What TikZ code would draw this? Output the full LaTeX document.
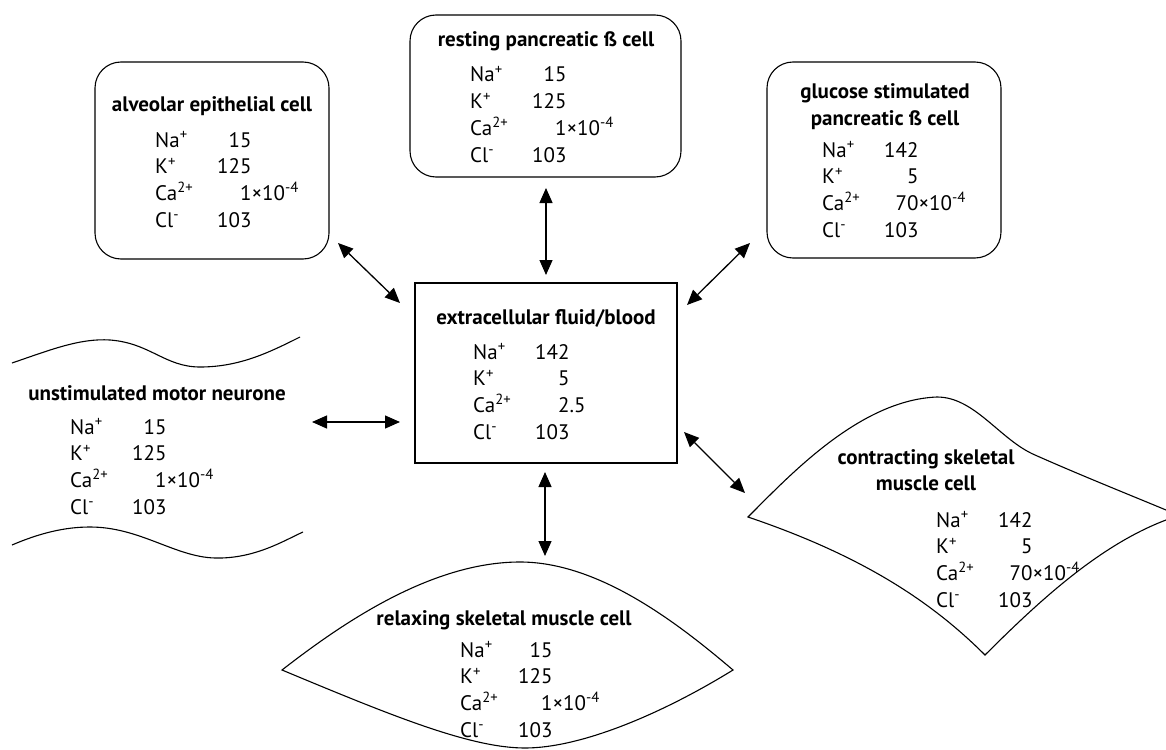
\documentclass[tikz,border=0pt]{standalone}
\usepackage{fontspec}
\setmainfont{PT Sans}
\usetikzlibrary{arrows.meta}
\newcommand\ions[6][62pt]{%
\begin{tabular}[t]{@{}l@{}r@{}l@{}}
\makebox[#1][l]{Na\textsuperscript{+}} & #2 & \\
K\textsuperscript{+} & #3 & \\
Ca\textsuperscript{2+} & #4 & #5\\
Cl\textsuperscript{-} & #6 &
\end{tabular}}
\newcommand\tenm{\texttimes 10\textsuperscript{-4}}
\tikzset{
  cellbox/.style={draw, line width=1.1pt, rounded corners=26pt, inner sep=0pt},
  plainbox/.style={draw, line width=1.1pt, inner sep=0pt},
  ttl/.style={font=\fontsize{21}{26}\selectfont\bfseries, inner sep=0pt, anchor=base},
  tbl/.style={font=\fontsize{21}{26.7}\selectfont, inner sep=0pt, anchor=base west},
  dbl/.style={{Triangle[length=15pt,width=13pt]}-{Triangle[length=15pt,width=13pt]}, line width=1.3pt},
  outline/.style={line width=1.1pt},
}
\begin{document}
\begin{tikzpicture}[x=1pt,y=-1pt]
\useasboundingbox (0,0) rectangle (1166,749);
% boxes
\node[cellbox, minimum width=271pt, minimum height=162pt] (rest) at (545.5,96) {};
\node[cellbox, minimum width=234pt, minimum height=197pt] (alv) at (212,160.5) {};
\node[cellbox, minimum width=234pt, minimum height=196pt] (glu) at (884,160) {};
\node[plainbox, minimum width=262pt, minimum height=180pt] (ecf) at (546,373) {};
% texts
\node[ttl] (restT) at (546,47) {resting pancreatic ß cell};
\node[tbl] (restD) at (470,82) {\ions{15}{125}{1}{\tenm}{103}};
\node[ttl] (alvT) at (212,112) {alveolar epithelial cell};
\node[tbl] (alvD) at (155,147) {\ions{15}{125}{1}{\tenm}{103}};
\node[ttl] (gluT) at (885,99) {glucose stimulated};
\node[ttl] (gluU) at (885,125) {pancreatic ß cell};
\node[tbl] (gluD) at (822,157) {\ions{142}{5}{70}{\tenm}{103}};
\node[ttl] (ecfT) at (546,324) {extracellular fluid/blood};
\node[tbl] (ecfD) at (473,359) {\ions{142}{5}{2}{.5}{103}};
\node[ttl] (neuT) at (157,400) {unstimulated motor neurone};
\node[tbl] (neuD) at (70,434) {\ions{15}{125}{1}{\tenm}{103}};
\node[ttl] (conT) at (926,464) {contracting skeletal};
\node[ttl] (conU) at (926,490) {muscle cell};
\node[tbl] (conD) at (936,527) {\ions{142}{5}{70}{\tenm}{103}};
\node[ttl] (relT) at (504,625) {relaxing skeletal muscle cell};
\node[tbl] (relD) at (460,657) {\ions[58pt]{15}{125}{1}{\tenm}{103}};
% cell outlines
\draw[outline] (12,363) .. controls (50,350) and (80,338) .. (110,340)
  .. controls (150,343) and (165,367) .. (200,367)
  .. controls (240,367) and (270,352) .. (300,337);
\draw[outline] (12,545) .. controls (40,533) and (65,527) .. (90,527)
  .. controls (140,527) and (175,557) .. (215,558)
  .. controls (255,559) and (285,540) .. (303,532);
\draw[outline] (1166,510) .. controls (1130,495) and (1080,475) .. (1035,455)
  .. controls (1000,440) and (975,397) .. (937,397)
  .. controls (860,400) and (790,475) .. (748,517)
  .. controls (860,555) and (930,600) .. (985,655)
  .. controls (1040,600) and (1100,545) .. (1166,520);
\draw[outline] (282,670) .. controls (340,625) and (430,562) .. (520,562)
  .. controls (600,562) and (680,625) .. (733,670)
  .. controls (660,715) and (580,748) .. (525,748)
  .. controls (470,748) and (390,715) .. cycle;
% arrow ends
\coordinate (r1) at (546,188); \coordinate (r2) at (546,275);
\coordinate (al1) at (338,243); \coordinate (al2) at (400,303);
\coordinate (g1) at (750,243); \coordinate (g2) at (687,305);
\coordinate (c1) at (684,432); \coordinate (c2) at (745,493);
\coordinate (n1) at (312,422); \coordinate (n2) at (400,422);
\coordinate (m1) at (545,472); \coordinate (m2) at (545,556);
\draw[dbl] (r1) -- (r2);
\draw[dbl] (al1) -- (al2);
\draw[dbl] (g1) -- (g2);
\draw[dbl] (c1) -- (c2);
\draw[dbl] (n1) -- (n2);
\draw[dbl] (m1) -- (m2);
\end{tikzpicture}
\end{document}
